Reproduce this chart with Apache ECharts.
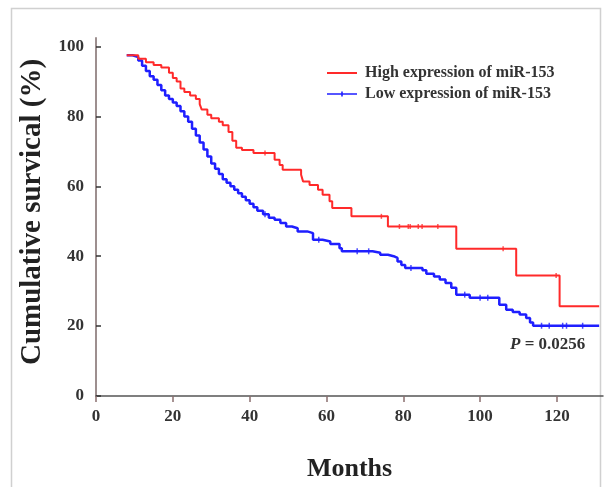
<!DOCTYPE html>
<html><head><meta charset="utf-8">
<script src="https://cdn.jsdelivr.net/npm/echarts@6/dist/echarts.min.js"></script>
<style>html,body{margin:0;padding:0;background:#fff}#c{width:604px;height:487px}</style>
</head><body><div id="c"></div>
<script>
// ---- data (months, cumulative survival %) ----
const seriesNames = ['High expression of miR-153', 'Low expression of miR-153'];
const highTimes = [8, 11, 13, 15, 17, 19, 20, 21, 22, 23, 24.5, 26, 27, 27.5, 29, 30, 32, 33, 34.5, 35.5, 36.5, 38, 41, 46.5, 47.8, 48.6, 53.4, 53.9, 55.6, 57.8, 59, 60.8, 61.5, 66.5, 76, 93.8, 109.4, 120.7, 131];
const highSurv  = [97.5, 96.5, 95.5, 94.7, 94, 92.5, 91, 90, 88, 87, 86, 85, 83.5, 82, 80.5, 79.5, 78.5, 77.5, 75.5, 73, 71, 70.4, 69.5, 67.6, 66.1, 64.7, 63.3, 61.4, 60.4, 59, 57.6, 55.7, 53.8, 51.4, 48.5, 42.1, 34.5, 25.7, 25.7];
const lowTimes = [8, 9.5, 11, 12, 13, 14, 15, 16, 17, 18, 19, 20, 21, 22, 23, 24, 25, 26, 27, 28, 29, 30, 31, 32, 33, 34, 35, 36, 37, 38, 39, 40, 41, 42, 43.5, 45, 46.5, 48, 49.5, 51, 52.5, 55, 56.5, 59, 61, 63.4, 64, 72, 74, 76, 77.5, 78.5, 79.5, 80.5, 85, 86, 88, 89.5, 91, 92.5, 93.8, 97.3, 105, 106.8, 108.5, 110.3, 112, 113, 113.8, 131];
const lowSurv  = [97.5, 97, 96, 94.5, 93, 91.5, 90.5, 89, 87.5, 86, 85, 84, 83, 81.5, 80, 78.5, 76.5, 74.5, 72.5, 70.5, 68.5, 66.5, 65, 63.5, 62, 61, 60, 59, 58, 57, 56, 55, 54, 53, 52, 51, 50.4, 49.5, 48.5, 48, 47.1, 46.6, 44.7, 44.2, 43.5, 42.3, 41.4, 41, 40.4, 40, 39.5, 38.5, 37.5, 36.6, 36, 35, 34.2, 33.3, 32.3, 31, 29, 28.1, 26.1, 24.7, 24, 23.3, 22.3, 21, 20.1, 20.1];
const highCensor = [44, 74.3, 79, 81.3, 81.8, 83.9, 84.9, 89, 106, 119.8];
const lowCensor = [44, 58, 68, 71, 82, 96, 100, 102, 116, 118, 121.5, 122.5, 126.7];
const xTicks = [0, 20, 40, 60, 80, 100, 120];
const yTicks = [0, 20, 40, 60, 80, 100];
const yTitle = 'Cumulative survical (%)';
const xTitle = 'Months';
const pValue = '0.0256';

function stepAt(times, surv, t) {
  let v = surv[0];
  for (let i = 0; i < times.length; i++) if (times[i] <= t) v = surv[i];
  return v;
}
const zip = (a, b) => a.map((t, i) => [t, b[i]]);
const serif = '"Liberation Serif", "DejaVu Serif", serif';
const RED = '#ff2a2a', BLUE = '#1f1fff';
// legend glyphs: thin line (red); thin line with a small censor tick (blue)
const pad = ' M0,0 L0.01,0 L0.01,0.01 Z M0,8 L0.01,8 L0.01,7.99 Z';
const iconHigh = 'path://M0,3.1 L30,3.1 L30,4.9 L0,4.9 Z' + pad;
const iconLow = 'path://M0,3.2 L30,3.2 L30,4.8 L0,4.8 Z M14.2,1.5 L15.8,1.5 L15.8,6.5 L14.2,6.5 Z' + pad;

const chart = echarts.init(document.getElementById('c'), null, { renderer: 'canvas' });
chart.setOption({
  backgroundColor: '#fff',
  animation: false,
  grid: { left: 96, right: 1, top: 38, bottom: 90.5 },
  legend: {
    orient: 'vertical', left: 322, top: 60, itemWidth: 30, itemHeight: 8, itemGap: 5,
    data: [
      { name: seriesNames[0], icon: iconHigh, itemStyle: { color: RED } },
      { name: seriesNames[1], icon: iconLow, itemStyle: { color: BLUE } }
    ],
    textStyle: { fontFamily: serif, fontWeight: 'bold', fontSize: 16, color: '#333', lineHeight: 16, padding: [0, 0, 0, 3] }
  },
  xAxis: {
    type: 'value', min: 0, max: 132,
    name: xTitle, nameLocation: 'middle', nameGap: 60,
    nameTextStyle: { fontFamily: serif, fontWeight: 'bold', fontSize: 26, color: '#222' },
    axisLine: { lineStyle: { color: '#555', width: 1.5 } },
    axisTick: { customValues: xTicks, length: 6, lineStyle: { color: '#8a6f6f', width: 1.5 } },
    axisLabel: { customValues: xTicks, margin: 12, fontFamily: serif, fontWeight: 'bold', fontSize: 17, color: '#333' },
    splitLine: { show: false }
  },
  yAxis: {
    type: 'value', min: 0, max: 102.43,
    axisLine: { show: true, lineStyle: { color: '#9d8f8f', width: 2 } },
    axisTick: { show: true, inside: true, length: 5, customValues: yTicks, lineStyle: { color: '#333', width: 1.5 } },
    axisLabel: { customValues: yTicks, margin: 12, fontFamily: serif, fontWeight: 'bold', fontSize: 17, color: '#333' },
    splitLine: { show: false }
  },
  series: [
    {
      name: seriesNames[0], type: 'line', step: 'end', data: zip(highTimes, highSurv),
      symbol: 'none', lineStyle: { color: RED, width: 2 }, itemStyle: { color: RED }, z: 3
    },
    {
      name: seriesNames[1], type: 'line', step: 'end', data: zip(lowTimes, lowSurv),
      symbol: 'none', lineStyle: { color: BLUE, width: 2.5 }, itemStyle: { color: BLUE }, z: 2
    },
    {
      type: 'scatter', data: highCensor.map(t => [t, stepAt(highTimes, highSurv, t)]),
      symbol: 'rect', symbolSize: [1.5, 5], itemStyle: { color: RED }, silent: true, z: 4
    },
    {
      type: 'scatter', data: lowCensor.map(t => [t, stepAt(lowTimes, lowSurv, t)]),
      symbol: 'rect', symbolSize: [1.5, 6], itemStyle: { color: BLUE }, silent: true, z: 4
    }
  ],
  graphic: [
    { type: 'rect', shape: { x: 11.5, y: 8.5, width: 589, height: 500 }, style: { fill: 'none', stroke: '#d0d0d0', lineWidth: 1.5 }, silent: true, z: -1 },
    {
      type: 'text', x: 33, y: 212, rotation: Math.PI / 2,
      style: { text: yTitle, font: 'bold 29px ' + serif, fill: '#222', align: 'center', verticalAlign: 'middle' }
    },
    {
      type: 'text', left: 510, top: 336,
      style: {
        text: '{i|P} = ' + pValue,
        rich: { i: { fontStyle: 'italic', fontFamily: serif, fontWeight: 'bold', fontSize: 17, fill: '#333' } },
        font: 'bold 17px ' + serif, fill: '#333'
      }
    }
  ]
});
</script></body></html>
